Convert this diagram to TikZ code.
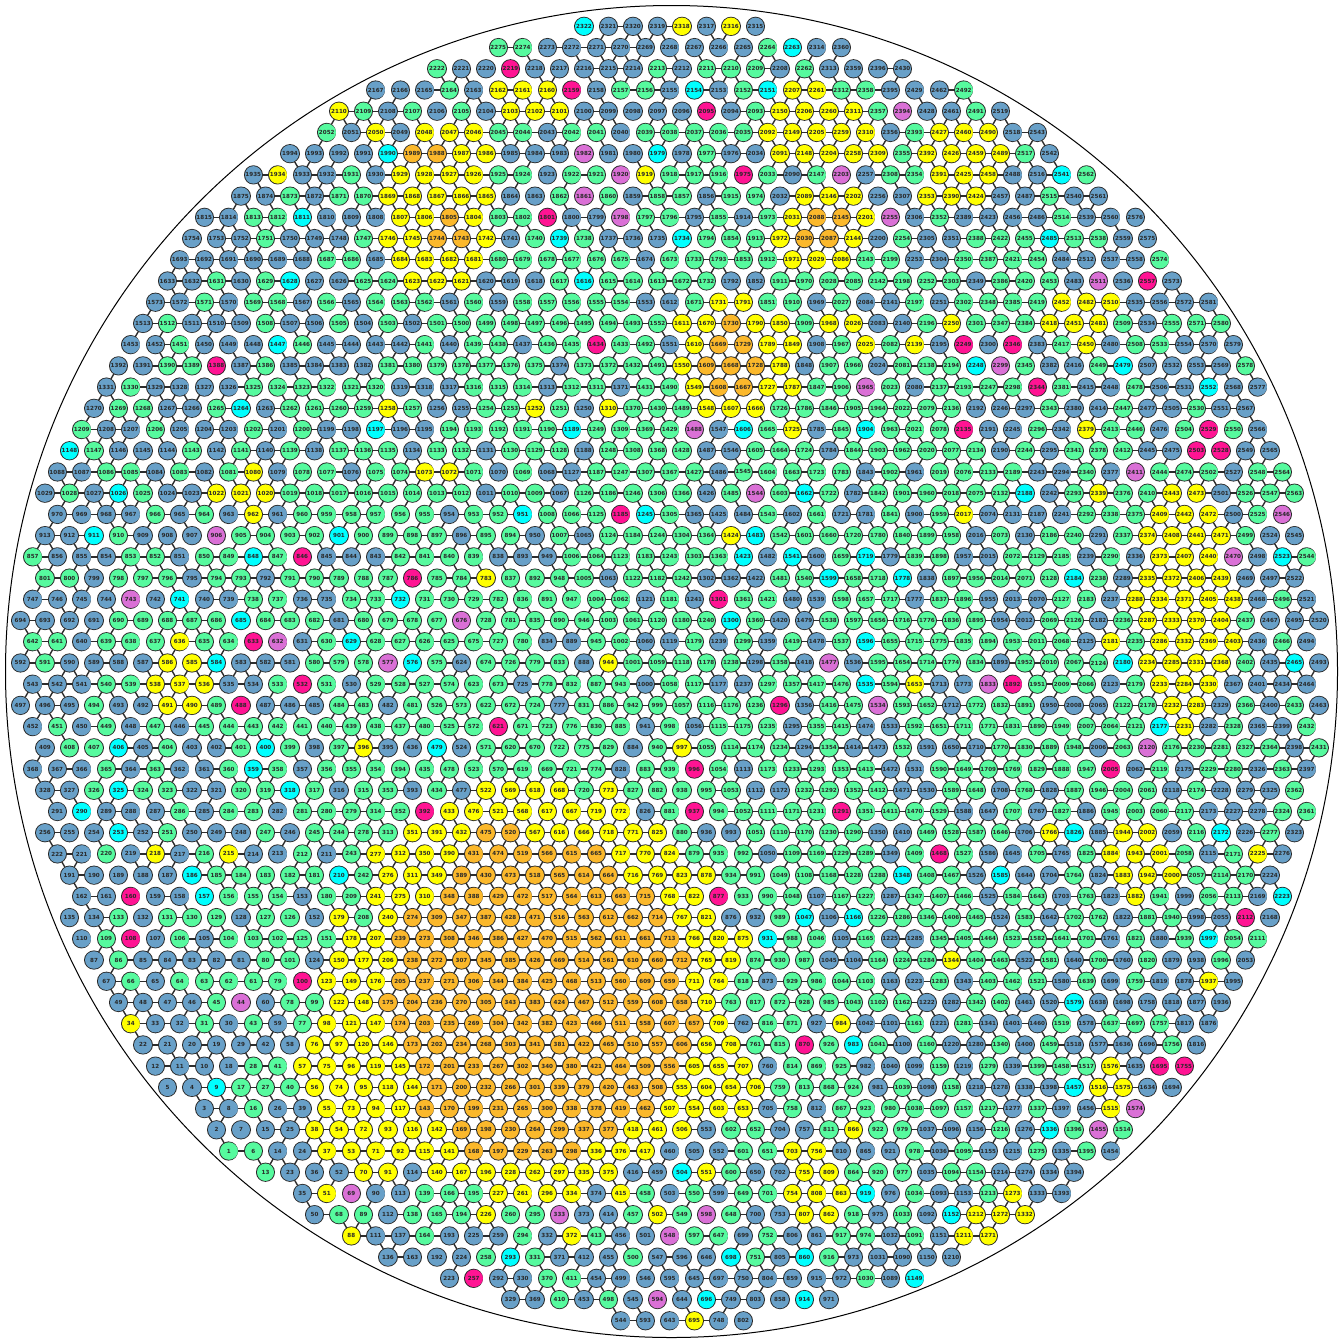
\documentclass[tikz,border=0pt]{standalone}
\usepackage{fontspec}
\newfontfamily\vfont{DejaVu Sans}
\definecolor{cgreen}{RGB}{86,250,158}
\definecolor{cblue}{RGB}{104,160,200}
\definecolor{cyellow}{RGB}{255,255,0}
\definecolor{corange}{RGB}{251,184,43}
\definecolor{ccyan}{RGB}{0,255,255}
\definecolor{cpink}{RGB}{255,20,147}
\definecolor{corchid}{RGB}{218,112,214}
\definecolor{cdark}{RGB}{40,40,40}
\definecolor{cline}{RGB}{45,45,45}
\tikzset{
  vtx/.style={circle,minimum size=19.2pt,inner sep=0pt,outer sep=0pt,font=\vfont\fontsize{5.6pt}{6pt}\selectfont\bfseries},
  vdisk/.style={double=#1,double distance=17.5pt},
  lnk/.style={draw=cline,line width=1.4pt},
  rim/.style={draw=black,line width=1pt}
}
\newcommand\rsNode[4]{\draw[vdisk=#4] (#1,#2) -- ++(0,0.01);\node[vtx] (n#3) at (#1,#2) {#3};}
\newcommand\rsEdge[2]{\draw[lnk] (n#1) -- (n#2);}
\ExplSyntaxOn
\int_new:N \g_rs_seed_int
\int_gset:Nn \g_rs_seed_int {20231}
\int_new:N \g_rs_k_int
\int_new:N \l_rs_q_int
\int_new:N \l_rs_r_int
\int_new:N \l_rs_vq_int
\int_new:N \l_rs_vr_int
\int_new:N \l_rs_X_int
\int_new:N \l_rs_Y_int
\int_new:N \l_rs_px_int
\int_new:N \l_rs_py_int
\int_new:N \l_rs_dx_int
\int_new:N \l_rs_dy_int
\int_new:N \l_rs_ex_int
\int_new:N \l_rs_ey_int
\int_new:N \l_rs_M_int
\int_new:N \l_rs_level_int
\int_new:N \l_rs_col_int
\int_new:N \l_rs_u_int
\int_new:N \l_rs_D_int
\int_new:N \l_rs_pb_int
\int_new:N \l_rs_w_int
\int_new:N \l_rs_wc_int
\int_new:N \l_rs_rv_int
\tl_new:N \l_rs_nb_tl
\tl_new:N \l_rs_key_tl
\tl_new:N \g_rs_alledges_tl

\cs_new_protected:Npn \rs_rand:
  {
    \int_gset:Nn \g_rs_seed_int
      { 16807 * \int_mod:nn { \g_rs_seed_int } { 127773 }
        - 2836 * \int_div_truncate:nn { \g_rs_seed_int } { 127773 } }
    \int_compare:nNnT { \g_rs_seed_int } < { 1 }
      { \int_gadd:Nn \g_rs_seed_int { 2147483647 } }
  }

\cs_new:Npn \rs_weight:n #1
  { \int_case:nn {#1} { {0}{80} {1}{70} {2}{92} {3}{100} {4}{45} {5}{0} {6}{0} } }

\cs_new:Npn \rs_colname:n #1
  { \int_case:nn {#1} { {0}{cgreen} {1}{cblue} {2}{cyellow} {3}{corange} {4}{ccyan} {5}{cpink} {6}{corchid} } }

\cs_new_protected:Npn \rs_bump:nnnnn #1#2#3#4#5
  {
    \int_set:Nn \l_rs_ex_int { \l_rs_px_int - (#1) }
    \int_set:Nn \l_rs_ey_int { \l_rs_py_int - (#2) }
    \bool_if:nT
      {
        \int_compare_p:nNn { \int_abs:n { \l_rs_ex_int } } < { (#3) * 2 }
        &&
        \int_compare_p:nNn { \int_abs:n { \l_rs_ey_int } } < { (#4) * 2 }
      }
      {
        \int_set:Nn \l_rs_ex_int { \l_rs_ex_int * 1000 / (#3) }
        \int_set:Nn \l_rs_ey_int { \l_rs_ey_int * 1000 / (#4) }
        \int_set:Nn \l_rs_M_int { ( \l_rs_ex_int * \l_rs_ex_int + \l_rs_ey_int * \l_rs_ey_int ) / 1000 }
        \rs_rand:
        \int_set:Nn \l_rs_M_int { \l_rs_M_int * ( 820 + \int_mod:nn { \g_rs_seed_int } { 360 } ) / 1000 }
        \int_compare:nNnT { \l_rs_M_int } < { 1000 }
          {
            \int_compare:nNnTF { \l_rs_M_int } < { #5 }
              { \int_set:Nn \l_rs_level_int {2} }
              { \int_compare:nNnT { \l_rs_level_int } < { 1 } { \int_set:Nn \l_rs_level_int {1} } }
          }
      }
  }

\cs_new_protected:Npn \rs_background:
  {
    \rs_rand:
    \int_set:Nn \l_rs_u_int { \int_mod:nn { \g_rs_seed_int } { 1000 } }
    \int_compare:nNnTF { \l_rs_u_int } < { 16 }
      { \int_set:Nn \l_rs_col_int {5} }
      {
        \int_compare:nNnTF { \l_rs_u_int } < { 32 }
          { \int_set:Nn \l_rs_col_int {6} }
          {
            \int_compare:nNnTF { \l_rs_u_int } < { 75 }
              { \int_set:Nn \l_rs_col_int {4} }
              {
                \int_compare:nNnTF { \l_rs_u_int } < { 100 }
                  { \int_set:Nn \l_rs_col_int {2} }
                  {
                    \int_set:Nn \l_rs_D_int { \l_rs_dx_int * \l_rs_dx_int + \l_rs_dy_int * \l_rs_dy_int }
                    \int_set:Nn \l_rs_pb_int
                      {
                        \int_compare:nNnTF { \l_rs_D_int } < { 160000 } { 250 }
                          {
                            \int_compare:nNnTF { \l_rs_D_int } < { 250000 } { 350 }
                              {
                                \int_compare:nNnTF { \l_rs_D_int } < { 336400 } { 480 }
                                  { \int_compare:nNnTF { \l_rs_D_int } < { 390625 } { 620 } { 760 } }
                              }
                          }
                      }
                    \rs_rand:
                    \int_compare:nNnTF { \int_mod:nn { \g_rs_seed_int } { 1000 } } < { \l_rs_pb_int }
                      { \int_set:Nn \l_rs_col_int {1} }
                      { \int_set:Nn \l_rs_col_int {0} }
                  }
              }
          }
      }
  }

\cs_new_protected:Npn \rs_color:
  {
    \int_set:Nn \l_rs_level_int {0}
    \rs_bump:nnnnn {540}{1000}{200}{212}{600}
    \rs_bump:nnnnn {370}{1080}{65}{95}{0}
    \rs_bump:nnnnn {720}{1080}{45}{50}{0}
    \rs_bump:nnnnn {440}{205}{55}{95}{0}
    \rs_bump:nnnnn {420}{150}{22}{18}{1000}
    \rs_bump:nnnnn {452}{236}{24}{20}{1000}
    \rs_bump:nnnnn {825}{228}{48}{48}{350}
    \rs_bump:nnnnn {735}{360}{62}{65}{380}
    \rs_bump:nnnnn {815}{125}{55}{40}{0}
    \rs_bump:nnnnn {965}{165}{45}{50}{0}
    \rs_bump:nnnnn {1078}{315}{40}{30}{0}
    \rs_bump:nnnnn {1185}{600}{50}{130}{0}
    \rs_bump:nnnnn {1140}{855}{35}{45}{0}
    \rs_bump:nnnnn {1000}{1215}{35}{25}{0}
    \rs_bump:nnnnn {815}{1190}{28}{42}{0}
    \rs_bump:nnnnn {250}{495}{35}{25}{0}
    \rs_bump:nnnnn {172}{680}{30}{45}{0}
    \rs_bump:nnnnn {893}{42}{40}{20}{0}
    \rs_bump:nnnnn {1108}{1088}{25}{25}{0}
    \rs_bump:nnnnn {530}{100}{35}{30}{0}
    \int_compare:nNnTF { \l_rs_level_int } = { 2 }
      { \int_set:Nn \l_rs_col_int {3} }
      {
        \int_compare:nNnTF { \l_rs_level_int } = { 1 }
          { \int_set:Nn \l_rs_col_int {2} }
          { \rs_background: }
      }
  }

\cs_new_protected:Npn \rs_try:nn #1#2
  {
    \tl_set:Nx \l_rs_key_tl
      { rsk_ \int_eval:n { \l_rs_vq_int + (#1) } _ \int_eval:n { \l_rs_vr_int + (#2) } }
    \cs_if_exist:cT { \l_rs_key_tl }
      {
        \tl_set:Nx \l_rs_nb_tl { \use:c { \l_rs_key_tl } }
        \int_set:Nn \l_rs_w_int { \l_rs_wc_int * \use:c { rsw_ \l_rs_nb_tl } }
        \rs_rand:
        \int_set:Nn \l_rs_rv_int { \int_mod:nn { \g_rs_seed_int } { 10000 } }
        \int_compare:nNnT { \l_rs_rv_int } < { \l_rs_w_int }
          {
            \tl_gput_right:Nx \g_rs_alledges_tl
              { \exp_not:N \rsEdge { \int_use:N \g_rs_k_int } { \l_rs_nb_tl } }
          }
      }
  }

\cs_new_protected:Npn \rs_place:
  {
    \int_gincr:N \g_rs_k_int
    \rs_color:
    \int_set:Nn \l_rs_wc_int { \rs_weight:n { \l_rs_col_int } }
    \cs_gset:cpx { rsk_ \int_use:N \l_rs_vq_int _ \int_use:N \l_rs_vr_int } { \int_use:N \g_rs_k_int }
    \cs_gset:cpx { rsw_ \int_use:N \g_rs_k_int } { \int_use:N \l_rs_wc_int }
    \use:x
      {
        \exp_not:N \rsNode
          { \fp_eval:n { \l_rs_X_int / 100 } }
          { \fp_eval:n { \l_rs_Y_int / 100 } }
          { \int_use:N \g_rs_k_int }
          { \rs_colname:n { \l_rs_col_int } }
      }
    \rs_try:nn {1}{0}
    \rs_try:nn {-1}{0}
    \rs_try:nn {0}{1}
    \rs_try:nn {0}{-1}
    \rs_try:nn {1}{-1}
    \rs_try:nn {-1}{1}
  }

\cs_new_protected:Npn \rs_visit:
  {
    \int_set_eq:NN \l_rs_vq_int \l_rs_q_int
    \int_set_eq:NN \l_rs_vr_int \l_rs_r_int
    \int_set:Nn \l_rs_X_int { 15525 + 2450 * \l_rs_vq_int + 1225 * \l_rs_vr_int }
    \int_set:Nn \l_rs_Y_int { 115100 + 2122 * \l_rs_vr_int }
    \int_set:Nn \l_rs_px_int { \l_rs_X_int / 100 }
    \int_set:Nn \l_rs_py_int { \l_rs_Y_int / 100 }
    \int_set:Nn \l_rs_dx_int { \l_rs_px_int - 672 }
    \int_set:Nn \l_rs_dy_int { \l_rs_py_int - 672 }
    \int_compare:nNnT
      { \l_rs_dx_int * \l_rs_dx_int + \l_rs_dy_int * \l_rs_dy_int } < { 426500 }
      { \rs_place: }
  }

\cs_new_protected:Npn \rs_side:nnn #1#2#3
  {
    \int_step_inline:nn {#1}
      {
        \rs_visit:
        \int_add:Nn \l_rs_q_int {#2}
        \int_add:Nn \l_rs_r_int {#3}
      }
  }

\cs_new_protected:Npn \rs_ring:n #1
  {
    \int_set:Nn \l_rs_q_int { -#1 }
    \int_set:Nn \l_rs_r_int { #1 }
    \rs_side:nnn {#1}{1}{0}
    \rs_side:nnn {#1}{1}{-1}
    \rs_side:nnn {#1}{0}{-1}
    \rs_side:nnn {#1}{-1}{0}
    \rs_side:nnn {#1}{-1}{1}
    \rs_side:nnn {#1}{0}{1}
  }

\cs_new_protected:Npn \rsDrawAll
  {
    \int_gzero:N \g_rs_k_int
    \tl_gclear:N \g_rs_alledges_tl
    \int_set:Nn \l_rs_q_int {0}
    \int_set:Nn \l_rs_r_int {0}
    \rs_visit:
    \int_step_function:nN {66} \rs_ring:n
    \tl_use:N \g_rs_alledges_tl
  }
\ExplSyntaxOff

\begin{document}
\begin{tikzpicture}[x=1pt,y=-1pt,line width=0.85pt,line cap=round]
\useasboundingbox (0,0) rectangle (1343,1339);
\fill[white] (0,0) rectangle (1343,1339);
\color{cdark}
\rsDrawAll
\draw[rim] (671.5,671.5) circle[radius=666pt];
\end{tikzpicture}
\end{document}
